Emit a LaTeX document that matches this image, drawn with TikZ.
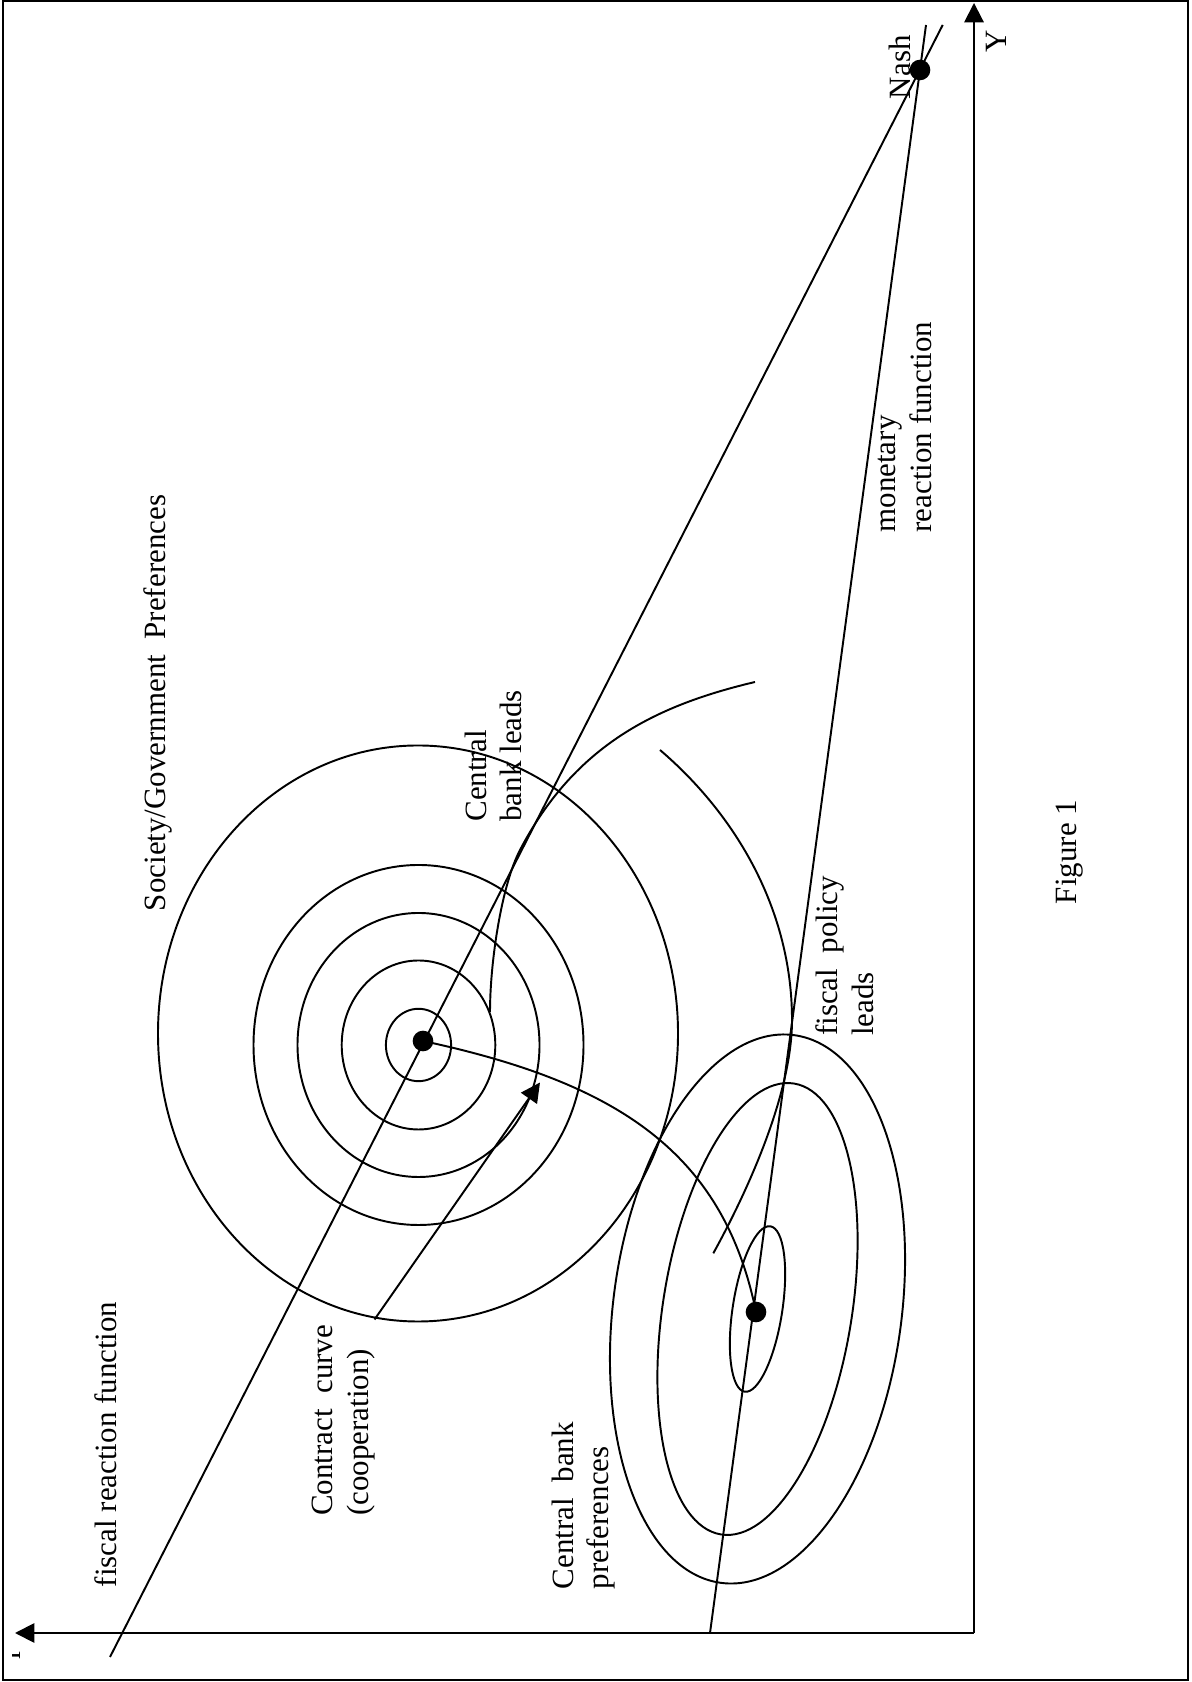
\documentclass[tikz,border=0pt]{standalone}
\usepackage{fontspec}
\setmainfont{Liberation Serif}
\usetikzlibrary{arrows.meta}

\begin{document}
\begin{tikzpicture}[x=0.3876pt,y=0.3876pt,line width=0.75pt,
    every node/.style={font=\fontsize{12}{13.8}\selectfont,inner sep=0pt,rotate=90},
    tip/.style={-{Triangle[length=7.5pt,width=7.5pt]}}]
  \useasboundingbox (0,0) rectangle (1191,1682);
  \draw[line width=0.8pt] (3,2) rectangle (1188,1681);
  % axes
  \coordinate (O) at (974,49);
  \coordinate (Ytop) at (974,1679);
  \coordinate (rend) at (15,49);
  \draw[tip] (O) -- (Ytop);
  \draw[tip] (O) -- (rend);
  \node[anchor=base west] (Ylab) at (1006.7,1628.7) {Y};
  \begin{scope}
    \clip (12.5,10) rectangle (30,40);
    \node[anchor=base west] (rlab) at (20.7,22) {r};
  \end{scope}
  % equilibria
  \coordinate (nash) at (920,1612);
  \coordinate (soc) at (423,641);
  \coordinate (cb) at (756,370);
  % reaction functions
  \coordinate (fisc0) at (110,25);
  \coordinate (fisc1) at (942.7,1657);
  \coordinate (mon0) at (710,49);
  \coordinate (mon1) at (926,1657);
  \draw (fisc0) -- (fisc1);
  \draw (mon0) -- (mon1);
  % society/government indifference curves
  \foreach \rx/\ry in {32.6/36.2, 76.8/84.5, 121/132, 165/180}
    \draw (418.5,637) ellipse [x radius=\rx, y radius=\ry];
  \draw (418,648.5) ellipse [x radius=260, y radius=288];
  % central bank indifference curves
  \foreach \ang/\rx/\ry in {-8.8/24.8/83.7, -9.2/94.4/228.4, -7.6/144.2/276.3}
    \draw[rotate around={\ang:(757.5,373)}] (757.5,373) ellipse [x radius=\rx, y radius=\ry];
  % contract curve
  \draw (soc) .. controls (614,600) and (723,532) .. (cb);
  % central bank leads
  \coordinate (cbl0) at (490,670);
  \coordinate (cbl1) at (520,832);
  \coordinate (cbl2) at (755,1000);
  \draw (cbl0) .. controls (490,720) and (501.5,796.6) .. (cbl1)
               .. controls (575.6,938.3) and (658,977) .. (cbl2);
  % fiscal policy leads
  \coordinate (fpl0) at (660,932);
  \coordinate (fpl1) at (792,662);
  \coordinate (fpl2) at (713.3,428.7);
  \draw (fpl0) .. controls (736,867) and (792,772) .. (fpl1)
               .. controls (792,592) and (751.9,498.8) .. (fpl2);
  \coordinate (cc0) at (374.5,362.5);
  \coordinate (cc1) at (540,599.5);
  \draw[tip] (cc0) -- (cc1);
  \fill (nash) circle (4pt);
  \fill (soc) circle (4pt);
  \fill (cb) circle (4pt);
  % labels
  \node[anchor=base west] (nashlab) at (910,1582) {Nash};
  \node[anchor=base west] (soclab) at (165,770) {Society/Government\ \ Preferences};
  \node[anchor=base west] (fisclab) at (116.5,94) {fiscal reaction function};
  \node[anchor=west,align=left] (monlab) at (905,1148.6) {monetary\\reaction function};
  \node[anchor=west,align=left] (cclab) at (343.7,165.3) {Contract\ \ curve\\(cooperation)};
  \node[anchor=west,align=left] (cblab) at (583.4,92) {Central\ \ bank\\preferences};
  \node[anchor=west,align=left] (cbleads) at (493.4,859.5) {Central\\bank leads};
  \node[anchor=west,align=left] (fpleads) at (845,645.3) {fiscal\ \ policy\\leads};
  \node[anchor=base west] (figlab) at (1076.7,777) {Figure 1};
\end{tikzpicture}
\end{document}
